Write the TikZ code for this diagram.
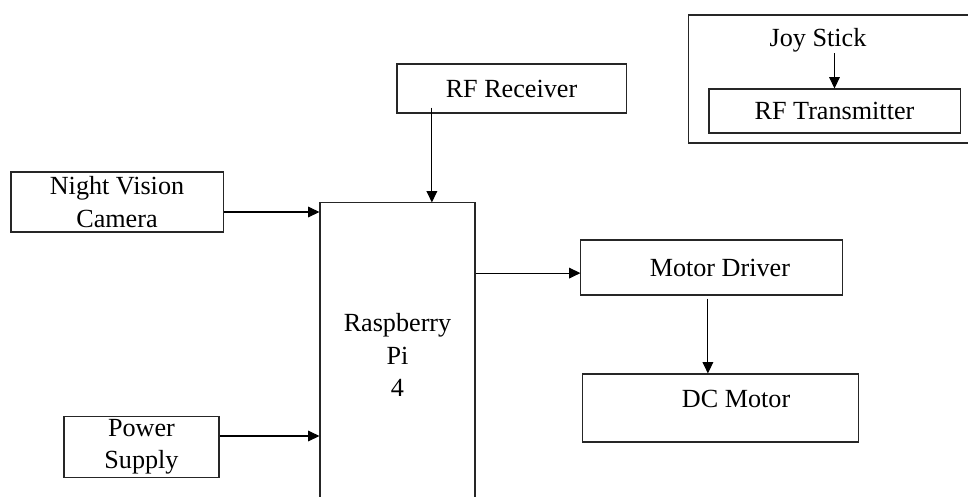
\documentclass[tikz,border=0pt]{standalone}
\usepackage{fontspec}
\setmainfont{Liberation Serif}
\usetikzlibrary{arrows.meta,positioning,calc}

\begin{document}
\begin{tikzpicture}[x=0.025cm,y=-0.025cm,
    blk/.style={draw=black!85,line width=0.75pt,inner sep=2pt,align=center,font=\fontsize{18.6}{23}\selectfont},
    lbl/.style={inner sep=1pt,align=center,font=\fontsize{18.6}{23}\selectfont},
    arr/.style={line width=0.75pt,-{Triangle[length=8pt,width=7.5pt]}}]
  \useasboundingbox (0,0) rectangle (968,496);
  % remote unit
  \node[blk,minimum width=7.075cm,minimum height=3.2cm] (remote) at (830.5,79) {};
  \node[lbl,anchor=base] (joy) at (818,46) {Joy Stick};
  \node[blk,minimum width=6.275cm,minimum height=1.1cm] (rftx) at (834.5,111) {RF Transmitter};
  \draw[arr] (joy.south -| rftx.north) -- (rftx.north);
  % robot
  \node[blk,minimum width=5.725cm,minimum height=1.225cm] (rfrx) at (511.5,88.5) {RF Receiver};
  \node[blk,minimum width=5.3cm,minimum height=1.5cm] (cam) at (117,202) {Night Vision\\Camera};
  \node[blk,minimum width=3.875cm,minimum height=7.6cm] (pi) at (397.5,355) {Raspberry\\Pi\\4};
  \node[blk,minimum width=3.875cm,minimum height=1.5cm] (power) at (141.5,447) {Power\\Supply};
  \node[blk,minimum width=6.525cm,minimum height=1.375cm] (md) at (711.5,267.5) {};
  \node[lbl] (mdtxt) at ([xshift=0.21cm]md.center) {Motor Driver};
  \node[blk,minimum width=6.875cm,minimum height=1.7cm] (dc) at (720.5,408) {};
  \node[lbl] (dctxt) at ([xshift=0.39cm,yshift=0.225cm]dc.center) {DC Motor};
  \draw[arr] ([xshift=-1.99cm,yshift=0.15cm]rfrx.south) -- ([xshift=-1.99cm]rfrx.south |- pi.north);
  \draw[arr] ([yshift=-0.25cm]cam.east) -- ([yshift=-0.25cm]cam.east -| pi.west);
  \draw[arr] ([yshift=0.275cm]power.east) -- ([yshift=0.275cm]power.east -| pi.west);
  \draw[arr] ([yshift=-0.14cm]md.west -| pi.east) -- ([yshift=-0.14cm]md.west);
  \draw[arr] ([xshift=-0.09cm,yshift=-0.075cm]md.south) -- ([xshift=-0.09cm]md.south |- dc.north);
\end{tikzpicture}
\end{document}
